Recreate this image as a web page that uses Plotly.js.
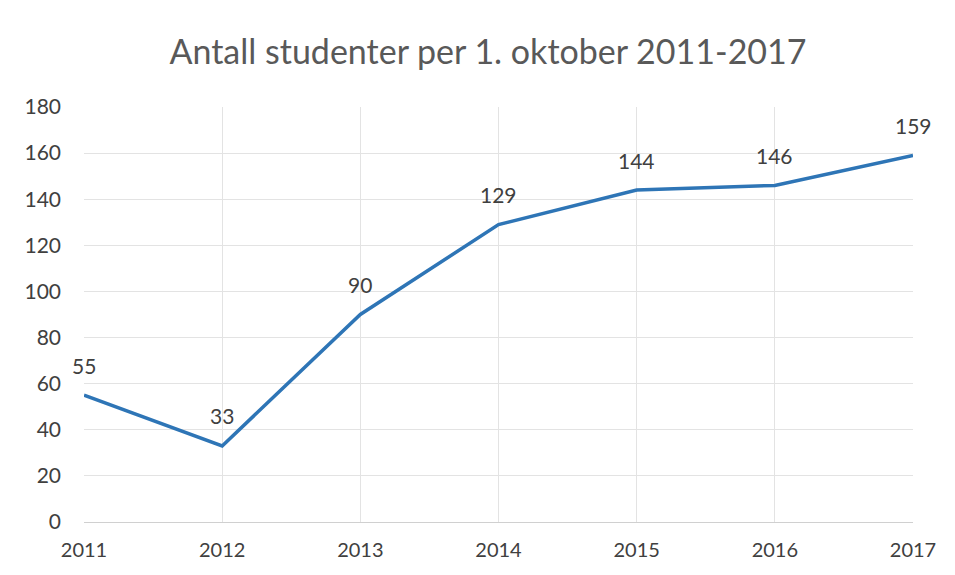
<!DOCTYPE html>
<html><head><meta charset="utf-8">
<script src="https://cdn.plot.ly/plotly-3.0.1.min.js"></script>
<style>html,body{margin:0;padding:0;background:#fff}#c{width:955px;height:575px}</style>
</head><body><div id="c"></div>
<script>
const years = [2011, 2012, 2013, 2014, 2015, 2016, 2017];
const students = [55, 33, 90, 129, 144, 146, 159];
const yTicks = [0, 20, 40, 60, 80, 100, 120, 140, 160, 180];

const FONT = "Lato, 'Open Sans', sans-serif";
const trace = {
  x: years, y: students, type: 'scatter', mode: 'lines',
  line: {color: '#2E75B6', width: 3.5}, hoverinfo: 'x+y'
};
const annotations = years.map((yr, i) => ({
  x: yr, y: students[i], text: String(students[i]), showarrow: false,
  xanchor: 'center', yanchor: 'middle', yshift: 30,
  font: {family: FONT, size: 21, color: '#404040'}
}));
const layout = {
  width: 955, height: 575,
  margin: {l: 84, r: 42, t: 107, b: 53},
  paper_bgcolor: '#fff', plot_bgcolor: '#fff',
  title: {text: 'Antall studenter per 1. oktober 2011-2017', x: 0.511, xanchor: 'center', y: 0.91, yanchor: 'middle',
          font: {family: FONT, size: 34, color: '#595959'}},
  xaxis: {range: [2011, 2017], tickvals: years, ticktext: years.map(String),
          showgrid: true, gridcolor: '#e3e3e3', zeroline: false,
          showline: true, linecolor: '#d0d0d0', ticks: '', ticklen: 0, ticklabelstandoff: 10,
          tickfont: {family: FONT, size: 20, color: '#404040'}},
  yaxis: {range: [0, 180], tickvals: yTicks, showgrid: true, gridcolor: '#e3e3e3',
          zeroline: false, showline: false, ticks: '', ticklabelstandoff: 22,
          tickfont: {family: FONT, size: 21, color: '#404040'}},
  showlegend: false, annotations: annotations
};
Plotly.newPlot('c', [trace], layout, {displayModeBar: false, staticPlot: true});
</script></body></html>
